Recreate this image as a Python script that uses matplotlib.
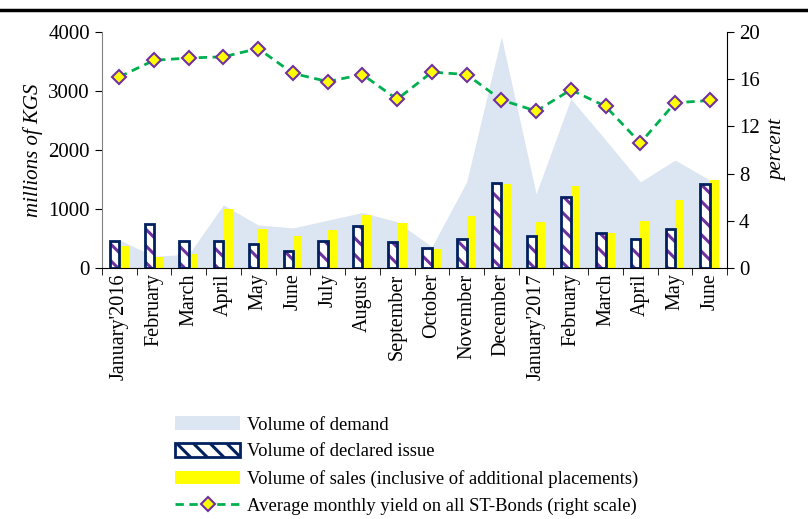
import matplotlib.pyplot as plt
import matplotlib.lines as mlines
import matplotlib.patches as mpatches
import numpy as np

plt.rcParams["font.family"] = ["Liberation Serif", "DejaVu Serif"]
plt.rcParams["hatch.linewidth"] = 2.2

months = ["January'2016", "February", "March", "April", "May", "June", "July",
          "August", "September", "October", "November", "December",
          "January'2017", "February", "March", "April", "May", "June"]
demand = [480, 200, 230, 1070, 730, 680, 810, 940, 785, 360, 1460, 3920,
          1260, 2870, 2170, 1460, 1830, 1490]
declared = [450, 750, 450, 450, 400, 290, 460, 720, 440, 340, 500, 1440,
            540, 1200, 600, 500, 660, 1430]
sales = [380, 180, 240, 1000, 660, 550, 650, 900, 760, 320, 890, 1420,
         780, 1390, 590, 790, 1150, 1490]
yields = [16.2, 17.6, 17.8, 17.9, 18.6, 16.5, 15.8, 16.4, 14.3, 16.6, 16.4,
          14.25, 13.3, 15.1, 13.7, 10.6, 14.0, 14.2]

x = np.arange(len(months))
navy = "#002060"
purple = "#7030a0"
area_c = "#dce6f2"

fig = plt.figure(figsize=(8.08, 5.19), dpi=100)
ax = fig.add_axes([0.126, 0.4836, 0.774, 0.4547])

ax.fill_between(x, demand, 0, color=area_c, linewidth=0, zorder=1)
bw = 0.27
ax.bar(x - bw / 2, declared, bw, color="white", edgecolor=purple, hatch="\\\\",
       linewidth=0, zorder=2)
ax.bar(x - bw / 2, declared, bw, fill=False, edgecolor=navy, linewidth=2, zorder=3)
ax.bar(x + bw / 2, sales, bw, color="#ffff00", linewidth=0, zorder=2)

ax.set_xlim(-0.5, len(months) - 0.5)
ax.set_ylim(0, 4000)
ax.set_yticks([0, 1000, 2000, 3000, 4000])
ax.set_xticks(x)
ax.set_xticklabels(months, rotation=90, fontsize=14.5)
ax.set_xticks(np.arange(-0.5, len(months)), minor=True)
ax.tick_params(axis="x", which="major", length=0, pad=4)
ax.tick_params(axis="x", which="minor", length=5, direction="out")
ax.tick_params(axis="y", labelsize=15, length=5)
ax.set_ylabel("millions of KGS", fontsize=15, style="italic", labelpad=4)
for s in ["top", "right"]:
    ax.spines[s].set_visible(False)
ax.spines["left"].set_color("#808080")

ax2 = ax.twinx()
ax2.plot(x, yields, color="#00b050", linestyle=(0, (3, 2)), linewidth=2,
         marker="D", markersize=7, markerfacecolor="#ffff00",
         markeredgecolor=purple, markeredgewidth=1.5, zorder=4)
ax2.set_ylim(0, 20)
ax2.set_yticks([0, 4, 8, 12, 16, 20])
ax2.tick_params(axis="y", labelsize=15, length=5)
ax2.set_ylabel("percent", fontsize=15, style="italic", labelpad=6)
for s in ["top", "left", "bottom"]:
    ax2.spines[s].set_visible(False)

h_area = mpatches.Patch(facecolor=area_c, edgecolor="none", label="Volume of demand")
h_decl = mpatches.Patch(facecolor="white", edgecolor=navy, hatch="\\\\", linewidth=2,
                        label="Volume of declared issue")
h_sales = mpatches.Patch(facecolor="#ffff00", edgecolor="none",
                         label="Volume of sales (inclusive of additional placements)")
h_yield = mlines.Line2D([], [], color="#00b050", linestyle=(0, (3, 2)), linewidth=2,
                        marker="D", markersize=7, markerfacecolor="#ffff00",
                        markeredgecolor=purple, markeredgewidth=1.5,
                        label="Average monthly yield on all ST-Bonds (right scale)")
fig.legend(handles=[h_area, h_decl, h_sales, h_yield], loc="upper left",
           bbox_to_anchor=(0.205, 0.216), frameon=False, fontsize=13.4,
           handlelength=3.5, handleheight=0.75, labelspacing=0.52, handletextpad=0.35,
           borderpad=0)

fig.add_artist(mlines.Line2D([0, 1], [0.981, 0.981], color="black", linewidth=2.5,
                             transform=fig.transFigure))

fig.savefig("out.png", dpi=100)
plt.close(fig)
